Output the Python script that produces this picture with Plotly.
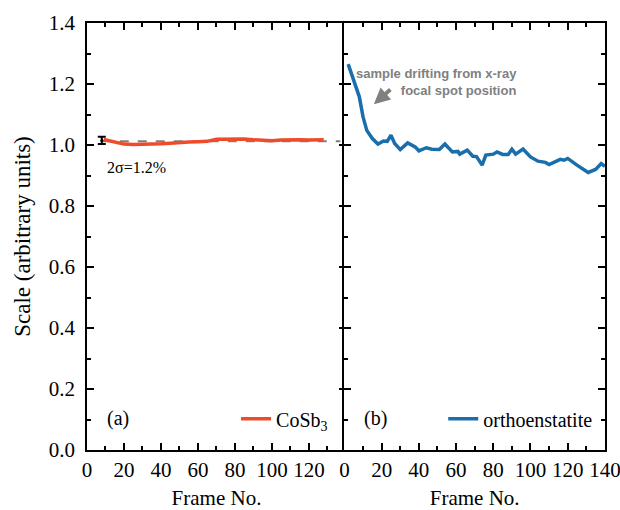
import plotly.graph_objects as go

# ---- data ----
cosb3_frame = [9, 12, 16, 20, 25, 30, 35, 40, 45, 50, 55, 60, 65, 70, 75, 80, 85, 90, 95, 100, 105, 110, 115, 120, 125, 128]
cosb3_scale = [1.018, 1.014, 1.008, 1.003, 1.002, 1.002, 1.003, 1.004, 1.006, 1.009, 1.010, 1.011, 1.012, 1.019, 1.019,
               1.018, 1.020, 1.017, 1.015, 1.014, 1.016, 1.017, 1.017, 1.016, 1.017, 1.017]

ortho_frame = [2, 5, 8, 10, 12, 15, 18, 21, 23, 25, 27, 30, 34, 38, 40, 44, 47, 51, 54, 58, 61, 62, 66, 69, 71, 74,
               76, 80, 82, 85, 88, 90, 92, 96, 100, 104, 108, 110, 116, 118, 120, 125, 131, 135, 138, 140]
ortho_scale = [1.265, 1.207, 1.158, 1.092, 1.048, 1.021, 1.003, 1.013, 1.012, 1.032, 1.005, 0.985, 1.007, 0.994,
               0.981, 0.991, 0.986, 0.985, 1.003, 0.977, 0.979, 0.970, 0.983, 0.963, 0.962, 0.934, 0.967, 0.970,
               0.977, 0.969, 0.969, 0.986, 0.970, 0.987, 0.961, 0.947, 0.943, 0.936, 0.953, 0.950, 0.956, 0.934,
               0.910, 0.920, 0.939, 0.930]

err_frame = [8]
err_scale = [1.015]
err_size = [0.012]

ref_frame = [8, 137]
ref_scale = [1.012, 1.012]

left_xticks = [0, 20, 40, 60, 80, 100, 120]
right_xticks = [0, 20, 40, 60, 80, 100, 120, 140]
minor_xticks = [10, 30, 50, 70, 90, 110, 130]
yticks = [0.0, 0.2, 0.4, 0.6, 0.8, 1.0, 1.2, 1.4]

RED = "#ee4b2b"
BLUE = "#1a6eab"
GRAY = "#808080"
SERIF = "Liberation Serif"

fig = go.Figure()

fig.add_trace(go.Scatter(x=ref_frame, y=ref_scale, mode="lines", xaxis="x", yaxis="y",
                         line=dict(color=GRAY, width=2, dash="dash"), showlegend=False, hoverinfo="skip"))
fig.add_trace(go.Scatter(x=cosb3_frame, y=cosb3_scale, mode="lines", xaxis="x", yaxis="y",
                         name="CoSb<sub>3</sub>", legend="legend",
                         line=dict(color=RED, width=3.5)))
fig.add_trace(go.Scatter(x=err_frame, y=err_scale, mode="markers", xaxis="x", yaxis="y",
                         marker=dict(size=3, color="black"), showlegend=False,
                         error_y=dict(type="data", array=err_size, width=4, thickness=2, color="black")))
fig.add_trace(go.Scatter(x=ortho_frame, y=ortho_scale, mode="lines", xaxis="x2", yaxis="y2",
                         name="orthoenstatite", legend="legend2",
                         line=dict(color=BLUE, width=3.5)))

axis_common = dict(showline=True, linecolor="black", linewidth=1.5, mirror="ticks",
                   ticks="inside", ticklen=7, tickwidth=1.5, tickcolor="black",
                   showgrid=False, zeroline=False, automargin=False, ticklabeloverflow="allow",
                   tickfont=dict(family=SERIF, size=21, color="black"))

minor_x = dict(tickmode="array", tickvals=minor_xticks, ticks="inside", ticklen=4,
               tickwidth=1.5, tickcolor="black")
minor_y = dict(dtick=0.1, ticks="inside", ticklen=4, tickwidth=1.5, tickcolor="black")

fig.update_layout(
    width=620, height=510,
    margin=dict(l=87, r=15, t=23, b=60),
    paper_bgcolor="white", plot_bgcolor="white",
    font=dict(family=SERIF, color="black"),
    xaxis=dict(domain=[0, 0.5], range=[0, 140.05], tickmode="array", tickvals=left_xticks,
               minor=minor_x, ticklabelstandoff=0,
               title=dict(text="Frame No.", font=dict(family=SERIF, size=21), standoff=24),
               anchor="y", **axis_common),
    xaxis2=dict(domain=[0.497, 1], range=[0, 140.05], tickmode="array", tickvals=right_xticks,
                minor=minor_x, ticklabelstandoff=0,
                title=dict(text="Frame No.", font=dict(family=SERIF, size=21), standoff=24),
                anchor="y2", **axis_common),
    yaxis=dict(domain=[0, 1], range=[0, 1.4], tickmode="array", tickvals=yticks, tickformat=".1f",
               minor=minor_y,
               title=dict(text="Scale (arbitrary units)", font=dict(family=SERIF, size=23), standoff=12),
               anchor="x", ticklabelstandoff=6, **axis_common),
    yaxis2=dict(domain=[0, 1], range=[0, 1.4], tickmode="array", tickvals=yticks, showticklabels=False,
                minor=minor_y, anchor="x2", **axis_common),
    legend=dict(x=0.475, y=0.073, xanchor="right", yanchor="middle", bgcolor="rgba(0,0,0,0)",
                font=dict(family=SERIF, size=20, color="black"), borderwidth=0),
    legend2=dict(x=0.985, y=0.073, xanchor="right", yanchor="middle", bgcolor="rgba(0,0,0,0)",
                 font=dict(family=SERIF, size=20, color="black"), borderwidth=0),
)

fig.add_annotation(text="(a)", x=0.035, y=0.073, xref="paper", yref="paper", xanchor="left",
                   yanchor="middle", showarrow=False, font=dict(family=SERIF, size=20, color="black"))
fig.add_annotation(text="(b)", x=0.530, y=0.073, xref="paper", yref="paper", xanchor="left",
                   yanchor="middle", showarrow=False, font=dict(family=SERIF, size=20, color="black"))
fig.add_annotation(text="2σ=1.2%", x=26.6, y=0.927, xref="x", yref="y", showarrow=False,
                   font=dict(family=SERIF, size=16, color="black"))
fig.add_annotation(text="sample drifting from x-ray<br>focal spot position", x=94, y=1.207,
                   xref="x2", yref="y2", xanchor="right", yanchor="middle", align="right",
                   showarrow=False, font=dict(family="Liberation Sans", size=13, color=GRAY, weight="bold"))
fig.add_annotation(text="", x=15.8, y=1.134, ax=25.5, ay=1.186, xref="x2", yref="y2",
                   axref="x2", ayref="y2", showarrow=True, arrowhead=2, arrowsize=0.8,
                   arrowwidth=4, arrowcolor=GRAY)

fig.write_html("out.html")
